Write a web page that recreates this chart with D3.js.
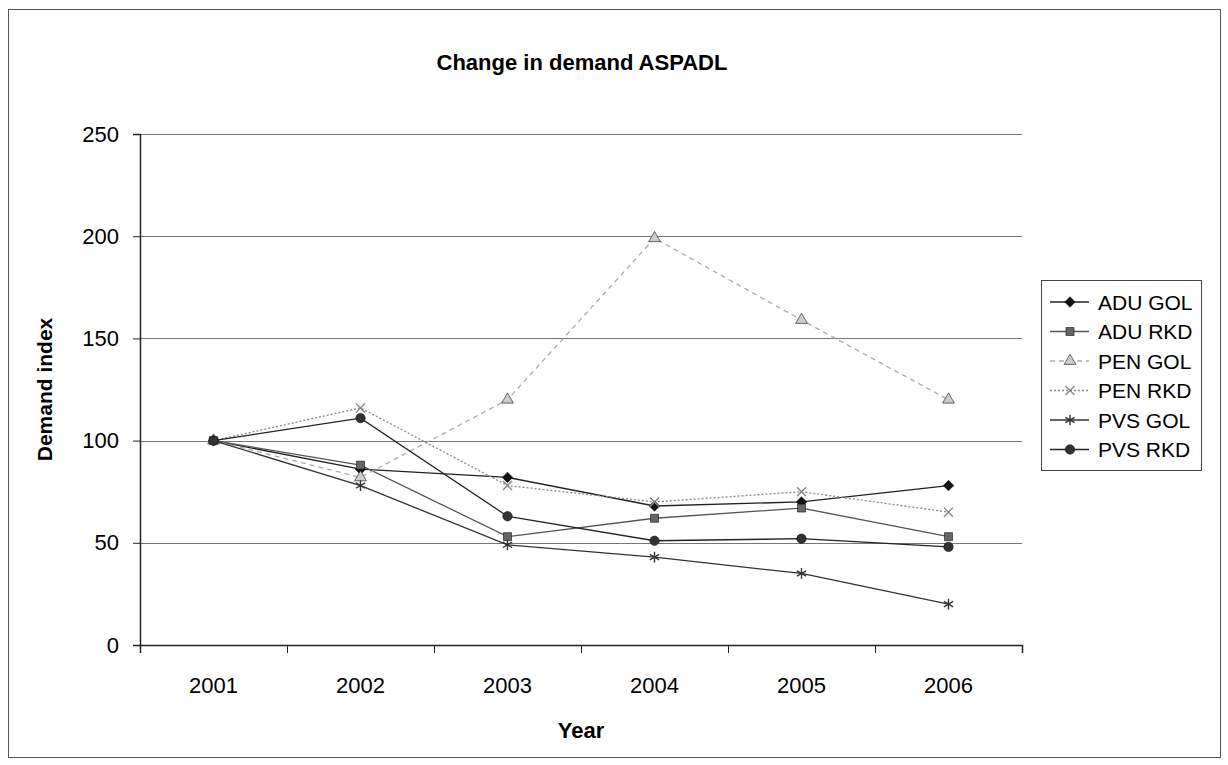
<!DOCTYPE html>
<html>
<head>
<meta charset="utf-8">
<script src="https://cdn.jsdelivr.net/npm/d3@7"></script>
<style>
    body { margin: 0; background: #fff; }
    text { font-family: "Liberation Sans", Arial, sans-serif; fill: #000; }
</style>
</head>
<body>
<div class="canvas"></div>
<script>
// data
const years = ['2001', '2002', '2003', '2004', '2005', '2006'];
const seriesNames = ['ADU GOL', 'ADU RKD', 'PEN GOL', 'PEN RKD', 'PVS GOL', 'PVS RKD'];
const aduGol = [100, 86, 82, 68, 70, 78];
const aduRkd = [100, 88, 53, 62, 67, 53];
const penGol = [100, 82, 120, 199, 159, 120];
const penRkd = [100, 116, 78, 70, 75, 65];
const pvsGol = [100, 78, 49, 43, 35, 20];
const pvsRkd = [100, 111, 63, 51, 52, 48];
const yTicks = [0, 50, 100, 150, 200, 250];

const allValues = [aduGol, aduRkd, penGol, penRkd, pvsGol, pvsRkd];

const dim = { width: 1228, height: 765 };
const plot = { left: 140, right: 1022, top: 134, bottom: 645 };

// one style per series, in the same order as seriesNames
const styles = [
    { stroke: '#222', dash: null, symbol: d3.symbolDiamond2, size: 70, fill: '#111', open: false },
    { stroke: '#555', dash: null, symbol: d3.symbolSquare, size: 64, fill: '#666', open: false },
    { stroke: '#aaa', dash: '5,4', symbol: d3.symbolTriangle, size: 60, fill: '#ccc', open: false },
    { stroke: '#888', dash: '2,2', symbol: d3.symbolX, size: 55, fill: 'none', open: true },
    { stroke: '#333', dash: null, symbol: d3.symbolAsterisk, size: 80, fill: 'none', open: true },
    { stroke: '#222', dash: null, symbol: d3.symbolCircle, size: 70, fill: '#333', open: false }
];

const svg = d3.select('.canvas').append('svg')
    .attr('width', dim.width)
    .attr('height', dim.height);

// outer chart frame
svg.append('rect')
    .attr('x', 8.5).attr('y', 9.5)
    .attr('width', 1212).attr('height', 748)
    .attr('fill', 'none')
    .attr('stroke', '#555')
    .attr('stroke-width', 1);

const x = d3.scaleBand()
    .domain(years)
    .range([plot.left, plot.right])
    .padding(0);

const xEdge = d3.scaleLinear()
    .domain([0, years.length])
    .range([plot.left, plot.right]);

const y = d3.scaleLinear()
    .domain([0, 250])
    .range([plot.bottom, plot.top]);

const cx = d => x(d) + x.bandwidth() / 2;

// gridlines
svg.append('g')
    .selectAll('line')
    .data(yTicks.filter(t => t > 0))
    .enter().append('line')
    .attr('x1', plot.left).attr('x2', plot.right)
    .attr('y1', d => Math.round(y(d)) + 0.5)
    .attr('y2', d => Math.round(y(d)) + 0.5)
    .attr('stroke', '#777')
    .attr('stroke-width', 1);

// y axis
const yAxis = d3.axisLeft(y)
    .tickValues(yTicks)
    .tickSize(7)
    .tickPadding(14);

const yG = svg.append('g')
    .attr('transform', `translate(${plot.left}, 0)`)
    .call(yAxis);
yG.select('.domain').attr('stroke', '#222').attr('stroke-width', 1.5);
yG.selectAll('.tick line').attr('stroke', '#222');
yG.selectAll('text').style('font-size', '22px').attr('fill', '#000');

// x axis: labels at band centres, tick marks at band edges
const xAxis = d3.axisBottom(x).tickSize(0).tickPadding(32);
const xG = svg.append('g')
    .attr('transform', `translate(0, ${plot.bottom})`)
    .call(xAxis);
xG.select('.domain').remove();
xG.selectAll('text').style('font-size', '22px').attr('fill', '#000');

const xTickG = svg.append('g')
    .attr('transform', `translate(0, ${plot.bottom})`)
    .call(d3.axisBottom(xEdge).ticks(years.length).tickSize(8).tickFormat(''));
xTickG.select('.domain').attr('stroke', '#222').attr('stroke-width', 1.5);
xTickG.selectAll('.tick line').attr('stroke', '#222');

// series lines
const line = d3.line()
    .x((d, i) => cx(years[i]))
    .y(d => y(d));

const seriesG = svg.append('g');

allValues.forEach((vals, s) => {
    const st = styles[s];
    seriesG.append('path')
        .datum(vals)
        .attr('d', line)
        .attr('fill', 'none')
        .attr('stroke', st.stroke)
        .attr('stroke-width', 1.3)
        .attr('stroke-dasharray', st.dash);
});

// markers
const markerPath = st => d3.symbol().type(st.symbol).size(st.size)();

allValues.forEach((vals, s) => {
    const st = styles[s];
    seriesG.append('g')
        .selectAll('path')
        .data(vals)
        .enter().append('path')
        .attr('d', markerPath(st))
        .attr('transform', (d, i) => `translate(${cx(years[i])}, ${y(d)})`)
        .attr('fill', st.fill)
        .attr('stroke', st.open ? st.stroke : '#111')
        .attr('stroke-width', st.open ? 1.4 : 0.6);
});

// title and axis titles
svg.append('text')
    .attr('x', 582).attr('y', 70)
    .attr('text-anchor', 'middle')
    .style('font-size', '22px').style('font-weight', 'bold')
    .text('Change in demand ASPADL');

svg.append('text')
    .attr('x', cx('2003') + x.bandwidth() / 2).attr('y', 738)
    .attr('text-anchor', 'middle')
    .style('font-size', '22px').style('font-weight', 'bold')
    .text('Year');

svg.append('text')
    .attr('transform', `translate(52, ${(plot.top + plot.bottom) / 2}) rotate(-90)`)
    .attr('text-anchor', 'middle')
    .style('font-size', '21px').style('font-weight', 'bold')
    .text('Demand index');

// legend
const legend = { x: 1041, y: 280, w: 160, h: 190, step: 29.5 };
const legendG = svg.append('g')
    .attr('transform', `translate(${legend.x}, ${legend.y})`);

legendG.append('rect')
    .attr('x', 0.5).attr('y', 0.5)
    .attr('width', legend.w).attr('height', legend.h)
    .attr('fill', '#fff')
    .attr('stroke', '#444');

const item = legendG.selectAll('g.item')
    .data(seriesNames)
    .enter().append('g')
    .attr('class', 'item')
    .attr('transform', (d, i) => `translate(0, ${22 + i * legend.step})`);

item.append('line')
    .attr('x1', 9).attr('x2', 48)
    .attr('y1', 0).attr('y2', 0)
    .attr('stroke', (d, i) => styles[i].stroke)
    .attr('stroke-width', 1.3)
    .attr('stroke-dasharray', (d, i) => styles[i].dash);

item.append('path')
    .attr('d', (d, i) => markerPath(styles[i]))
    .attr('transform', 'translate(29, 0)')
    .attr('fill', (d, i) => styles[i].fill)
    .attr('stroke', (d, i) => styles[i].open ? styles[i].stroke : '#111')
    .attr('stroke-width', (d, i) => styles[i].open ? 1.4 : 0.6);

item.append('text')
    .attr('x', 57).attr('y', 0)
    .attr('dy', '0.36em')
    .style('font-size', '21px')
    .text(d => d);
</script>
</body>
</html>
